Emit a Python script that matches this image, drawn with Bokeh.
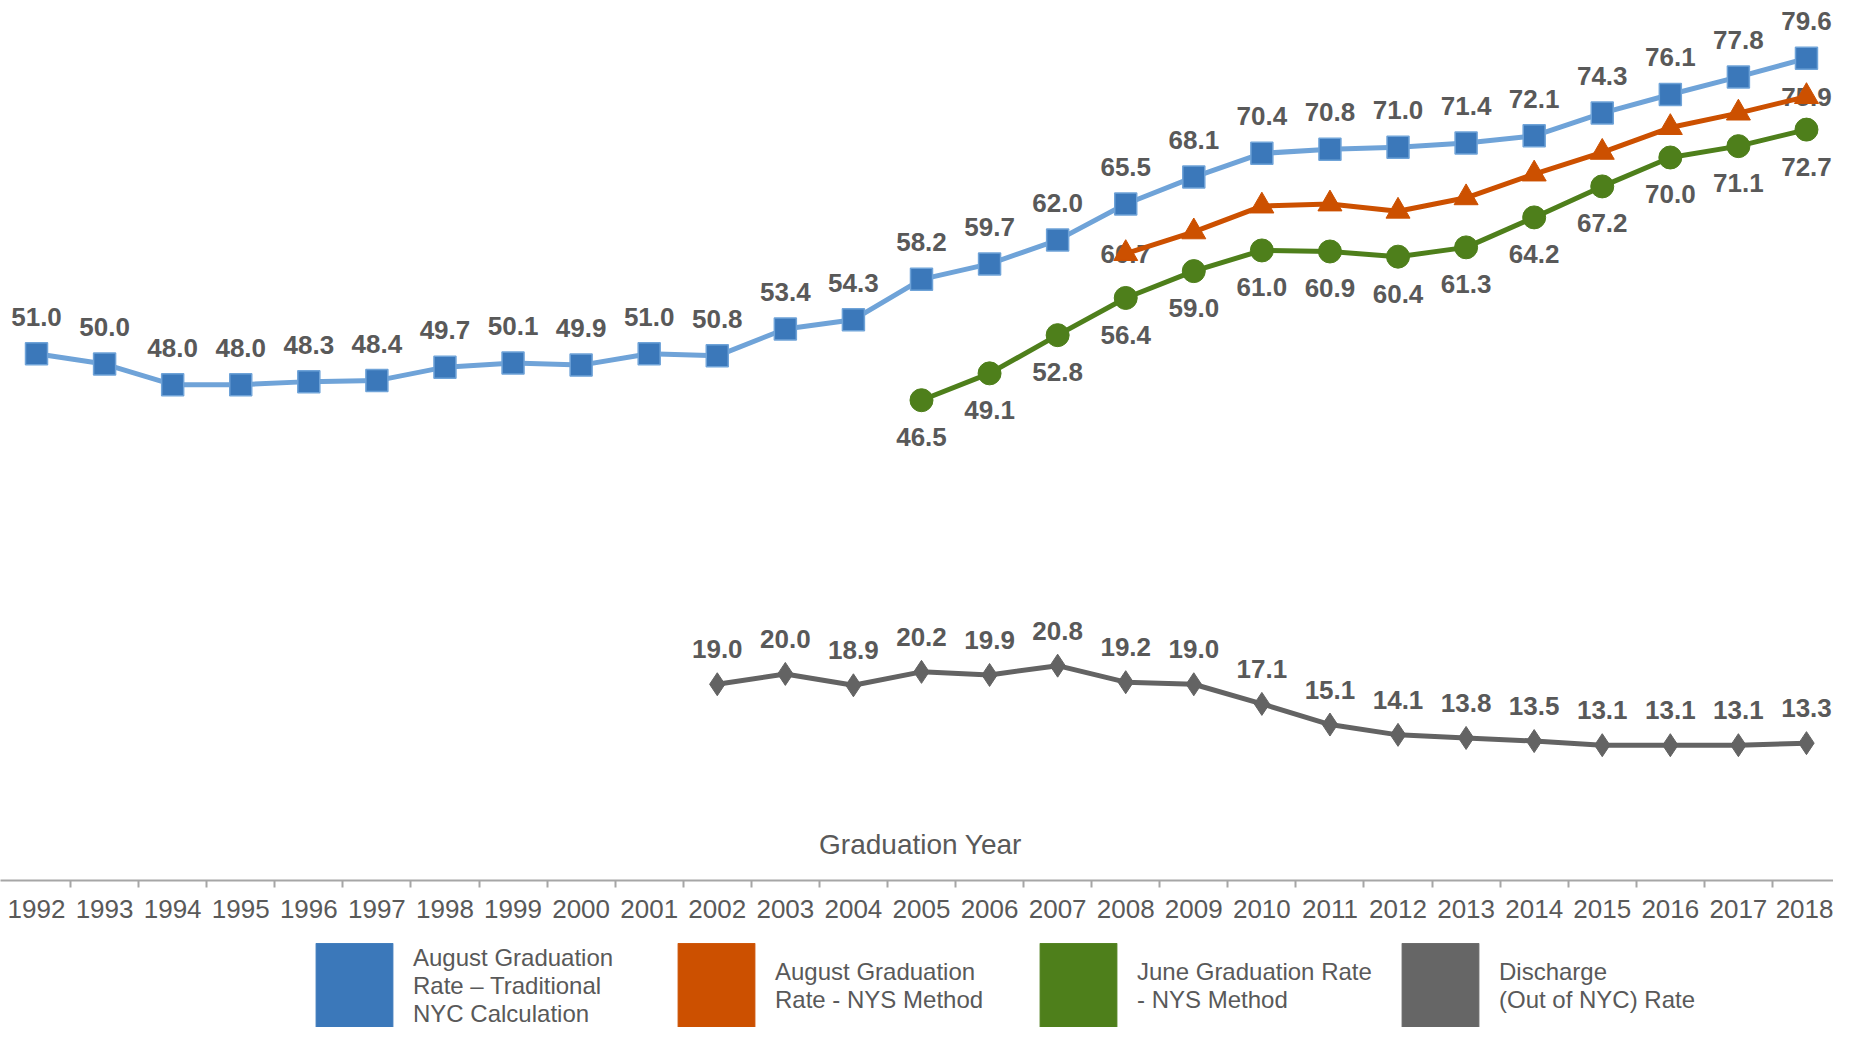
from bokeh.plotting import figure
from bokeh.layouts import column
from bokeh.models import (ColumnDataSource, FixedTicker, Legend, LegendItem, Label)
from bokeh.core.properties import value
from bokeh.embed import file_html
from bokeh.resources import INLINE

# ---------------- data ----------------
years = list(range(1992, 2019))
aug_trad = [51.0, 50.0, 48.0, 48.0, 48.3, 48.4, 49.7, 50.1, 49.9, 51.0, 50.8,
            53.4, 54.3, 58.2, 59.7, 62.0, 65.5, 68.1, 70.4, 70.8, 71.0, 71.4,
            72.1, 74.3, 76.1, 77.8, 79.6]

nys_years = list(range(2008, 2019))
aug_nys = [60.7, 62.8, 65.3, 65.5, 64.8, 66.1, 68.4, 70.5, 72.9, 74.3, 75.9]

june_years = list(range(2005, 2019))
june_nys = [46.5, 49.1, 52.8, 56.4, 59.0, 61.0, 60.9, 60.4, 61.3, 64.2, 67.2,
            70.0, 71.1, 72.7]

disc_years = list(range(2002, 2019))
discharge = [19.0, 20.0, 18.9, 20.2, 19.9, 20.8, 19.2, 19.0, 17.1, 15.1, 14.1,
             13.8, 13.5, 13.1, 13.1, 13.1, 13.3]

series_names = ["August Graduation\nRate \u2013 Traditional\nNYC Calculation",
                "August Graduation\nRate - NYS Method",
                "June Graduation Rate\n- NYS Method",
                "Discharge\n(Out of NYC) Rate"]
x_title = "Graduation Year"

# ---------------- styles ----------------
BLUE_LINE = "#6fa3d8"
BLUE = "#3b78ba"
ORANGE = "#cc5000"
GREEN = "#4e7f1b"
GRAY = "#636363"
GRAY_BOX = "#666666"
TXT = "#595959"
FONT = "Liberation Sans"
W = 1833

p = figure(width=W, height=943, x_range=(1991.471, 2018.397), y_range=(0, 85.2),
           output_backend="svg", toolbar_location=None, y_axis_location=None,
           min_border_left=0, min_border_right=0, min_border_top=0, min_border_bottom=63)
p.outline_line_color = None
p.xgrid.visible = False
p.ygrid.visible = False
p.background_fill_color = "white"
p.border_fill_color = "white"

def src(xs, ys):
    return ColumnDataSource(dict(x=xs, y=ys, t=[f"{v:.1f}" for v in ys]))

s_blue = src(years, aug_trad)
s_or = src(nys_years, aug_nys)
s_gr = src(june_years, june_nys)
s_gy = src(disc_years, discharge)

# orange labels shown only at the ends (under the markers)
s_or_lab = ColumnDataSource(dict(x=[nys_years[0], nys_years[-1]],
                                 y=[aug_nys[0], aug_nys[-1]],
                                 t=[f"{aug_nys[0]:.1f}", f"{aug_nys[-1]:.1f}"]))
lab_kw = dict(text="t", text_font=value(FONT), text_font_style="bold",
              text_font_size="26px", text_color=TXT, text_align="center",
              text_baseline="middle")
p.text(x="x", y="y", source=s_or_lab, **lab_kw)

# lines
p.line("x", "y", source=s_blue, line_color=BLUE_LINE, line_width=5)
p.line("x", "y", source=s_or, line_color=ORANGE, line_width=5)
p.line("x", "y", source=s_gr, line_color=GREEN, line_width=5)
p.line("x", "y", source=s_gy, line_color=GRAY, line_width=5)

# markers
p.scatter("x", "y", source=s_blue, marker="square", size=22, fill_color=BLUE,
          line_color=BLUE_LINE, line_width=1.5)
p.scatter("x", "y", source=s_or, marker="triangle", size=24, fill_color=ORANGE,
          line_color=ORANGE)
p.scatter("x", "y", source=s_gr, marker="circle", size=23, fill_color=GREEN,
          line_color=GREEN)
p.scatter("x", "y", source=s_gy, marker="diamond", size=23, fill_color=GRAY,
          line_color=GRAY)

# data labels
p.text(x="x", y="y", source=s_blue, y_offset=-37, **lab_kw)
p.text(x="x", y="y", source=s_gr, y_offset=37, **lab_kw)
p.text(x="x", y="y", source=s_gy, y_offset=-35, **lab_kw)

# x axis
ax = p.xaxis[0]
ax.ticker = FixedTicker(ticks=years, minor_ticks=[y + 0.5 for y in years[:-1]])
ax.major_tick_out = 0
ax.major_tick_in = 0
ax.minor_tick_out = 7
ax.minor_tick_in = 0
ax.minor_tick_line_color = "#a6a6a6"
ax.minor_tick_line_width = 2
ax.axis_line_color = "#a6a6a6"
ax.axis_line_width = 2
ax.major_label_text_font = FONT
ax.major_label_text_font_size = "26px"
ax.major_label_text_color = TXT
ax.major_label_standoff = 12

p.add_layout(Label(x=920, y=36, x_units="screen", y_units="screen", text=x_title,
                   text_align="center", text_baseline="middle", text_font=FONT,
                   text_font_size="28px", text_color=TXT))

# ---------------- legend (separate strip below) ----------------
lg = figure(width=W, height=84, x_range=(0, 1), y_range=(0, 1),
            output_backend="svg", toolbar_location=None,
            x_axis_location=None, y_axis_location=None,
            min_border_left=0, min_border_right=0, min_border_top=0, min_border_bottom=0)
lg.outline_line_color = None
lg.xgrid.visible = False
lg.ygrid.visible = False

box_colors = [BLUE, ORANGE, GREEN, GRAY_BOX]
items = []
for name, c in zip(series_names, box_colors):
    # proxy renderer (outside the visible range) that only supplies the legend swatch
    r = lg.quad(left=[5], right=[6], top=[6], bottom=[5], fill_color=c, line_color=c)
    items.append(LegendItem(label=name, renderers=[r]))

legend = Legend(items=items, orientation="horizontal", location=(306, -13),
                glyph_width=96, glyph_height=108, label_standoff=11, label_width=255,
                spacing=0, padding=0, margin=0, border_line_color=None,
                background_fill_alpha=0, label_text_font=FONT,
                label_text_font_size="24px", label_text_color=TXT,
                label_text_line_height=1.15)
lg.add_layout(legend)

layout = column(p, lg, spacing=0)
open("out.html", "w").write(file_html(layout, INLINE))
